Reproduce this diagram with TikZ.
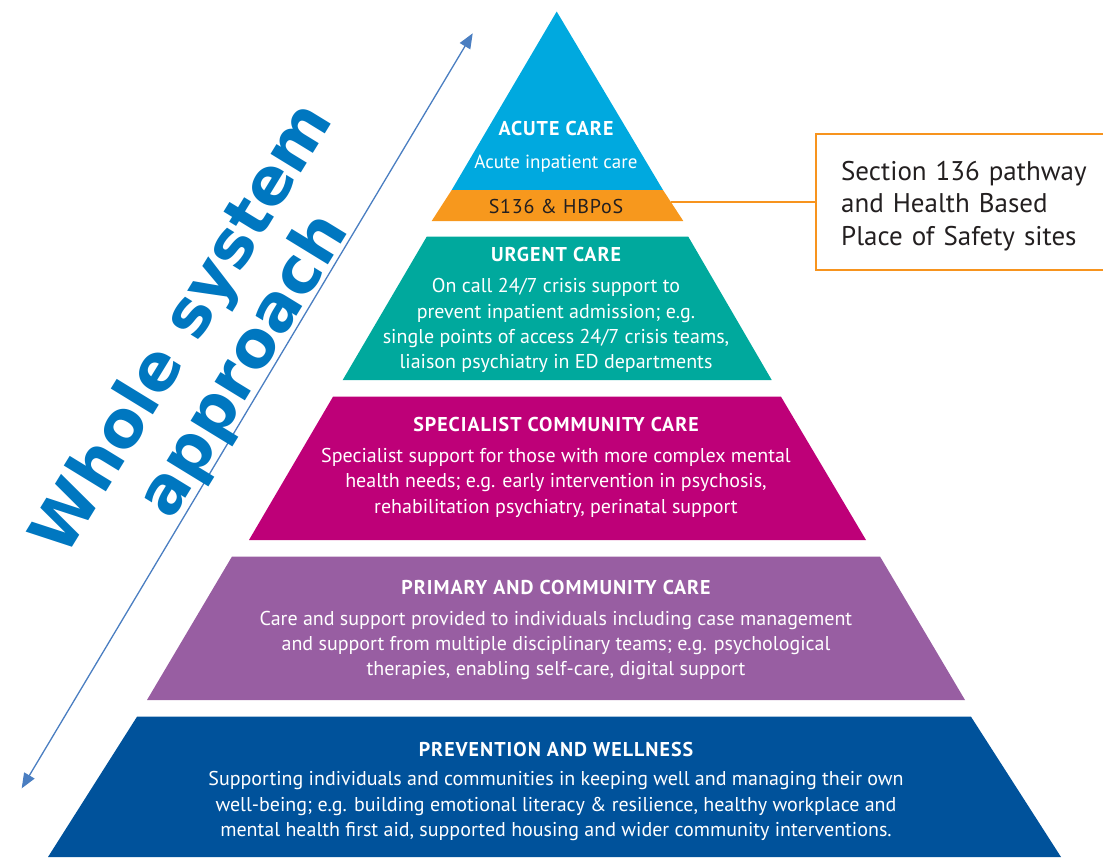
\documentclass[tikz,border=0pt]{standalone}
\usepackage{fontspec}
\setmainfont{PT Sans}
\newfontfamily\headfont{PT Sans}[LetterSpace=5]
\newfontfamily\bandfont{PT Sans}[LetterSpace=4]
\newfontfamily\widefont{DejaVu Sans}
\usepackage{xcolor}
\usetikzlibrary{arrows.meta}

\definecolor{acuteblue}{RGB}{0,169,223}
\definecolor{s136orange}{RGB}{247,152,29}
\definecolor{urgentteal}{RGB}{0,169,157}
\definecolor{specmagenta}{RGB}{190,0,120}
\definecolor{primpurple}{RGB}{152,94,162}
\definecolor{prevblue}{RGB}{0,82,155}
\definecolor{arrowblue}{RGB}{74,126,193}
\definecolor{titleblue}{RGB}{0,119,192}
\definecolor{boxorange}{RGB}{247,148,30}
\definecolor{darktext}{RGB}{35,31,32}

\begin{document}
\begin{tikzpicture}[x=1pt, y=-1pt,
		headtext/.style={font=\headfont\bfseries\fontsize{20}{24}\selectfont, text=white, anchor=base, inner sep=0pt},
		bodytext/.style={font=\fontsize{20}{25.4}\selectfont, text=white, align=center, anchor=base, inner sep=0pt}]
		\useasboundingbox (0,0) rectangle (1103,857);

		% Pyramid layers
		\fill[acuteblue] (556.7,11.5) -- (663,190) -- (451.7,190) -- cycle;
		\fill[s136orange] (451.7,190) -- (663,190) -- (683.3,221) -- (431.7,221) -- cycle;
		\fill[urgentteal] (426.7,236.7) -- (688.3,236.7) -- (771.7,380) -- (342.7,380) -- cycle;
		\fill[specmagenta] (333,396.7) -- (781,396.7) -- (866,540) -- (249,540) -- cycle;
		\fill[primpurple] (232,556.5) -- (880,556.5) -- (965,700) -- (147,700) -- cycle;
		\fill[prevblue] (137,716.7) -- (971,716.7) -- (1061,857) -- (48,857) -- cycle;

		% Layer texts (multi-line nodes sit on their last baseline)
		\node (acutehead) at (556,135) [headtext] {ACUTE CARE};
		\node (acutebody) at (556,168.3) [bodytext, font=\fontsize{19}{24}\selectfont] {Acute inpatient care};
		\node (s136) at (556,213.3) [bodytext, text=darktext, font=\bandfont\fontsize{20}{24}\selectfont] {S136 \& HBPoS};
		\node (urgenthead) at (556,261.7) [headtext] {URGENT CARE};
		\node (urgentbody) at (556,368.8) [bodytext] {On call 24/7 crisis support to\\
			prevent inpatient admission; e.g.\\
			single points of access 24/7 crisis teams,\\
			liaison psychiatry in ED departments};
		\node (spechead) at (556,431.7) [headtext] {SPECIALIST COMMUNITY CARE};
		\node (specbody) at (556,513.3) [bodytext] {Specialist support for those with more complex mental\\
			health needs; e.g. early intervention in psychosis,\\
			rehabilitation psychiatry, perinatal support};
		\node (primhead) at (556,594) [headtext] {PRIMARY AND COMMUNITY CARE};
		\node (primbody) at (556,675.8) [bodytext] {Care and support provided to individuals including case management\\
			and support from multiple disciplinary teams; e.g. psychological\\
			therapies, enabling self-care, digital support};
		\node (prevhead) at (556,756) [headtext] {PREVENTION AND WELLNESS};
		\node (prevbody) at (556,836.7) [bodytext] {Supporting individuals and communities in keeping well and managing their own\\
			well-being; e.g. building emotional literacy \& resilience, healthy workplace and\\
			mental health first aid, supported housing and wider community interventions.};

		% Section 136 call-out
		\node (safety) at (815,202) [anchor=west, draw=boxorange, line width=2.3pt,
			minimum height=136pt, inner xsep=25pt, text width=280pt,
			align=left, text=darktext, font=\fontsize{27}{32.5}\selectfont]
			{\rule{0pt}{27pt}Section 136 pathway\\and Health Based\\Place of Safety sites};
		\coordinate (bandedge) at (670.7,202);
		\draw [boxorange, line width=1.7pt] (bandedge) -- (safety.west);

		% Whole system arrow
		\coordinate (topend) at (472.7,33.3);
		\coordinate (botend) at (21.7,788.3);
		\draw [{Triangle[length=15pt,width=12pt]}-{Triangle[length=15pt,width=12pt]}, arrowblue, line width=1.3pt]
			(botend) -- (topend);
		\node (approach) at (215,348) [rotate=58.5, text=titleblue, align=center,
			font=\widefont\bfseries\fontsize{65}{71}\selectfont] {Whole system\\approach};
	\end{tikzpicture}
\end{document}
